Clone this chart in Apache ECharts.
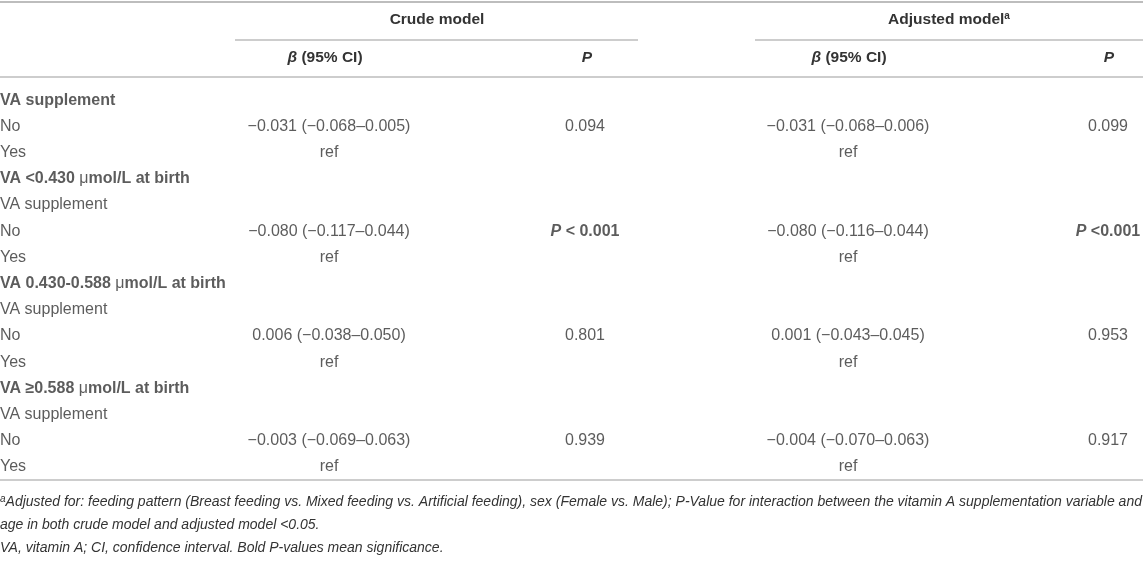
<!DOCTYPE html>
<html>
<head>
<meta charset="utf-8">
<script src="https://cdn.jsdelivr.net/npm/echarts@6/dist/echarts.min.js"></script>
<style>
html,body{margin:0;padding:0;background:#fff;}
#c{width:1143px;height:563px;}
</style>
</head>
<body>
<div id="c"></div>
<script>
// ---------- data ----------
const rowLabels = ['VA supplement', 'No', 'Yes',
  'VA <0.430 μmol/L at birth', 'VA supplement', 'No', 'Yes',
  'VA 0.430-0.588 μmol/L at birth', 'VA supplement', 'No', 'Yes',
  'VA ≥0.588 μmol/L at birth', 'VA supplement', 'No', 'Yes'];
const sectionRows = [0, 3, 7, 11];
const crudeBeta = ['', '−0.031 (−0.068–0.005)', 'ref', '', '', '−0.080 (−0.117–0.044)', 'ref', '', '', '0.006 (−0.038–0.050)', 'ref', '', '', '−0.003 (−0.069–0.063)', 'ref'];
const crudeP = ['', '0.094', '', '', '', 'P < 0.001', '', '', '', '0.801', '', '', '', '0.939', ''];
const adjBeta = ['', '−0.031 (−0.068–0.006)', 'ref', '', '', '−0.080 (−0.116–0.044)', 'ref', '', '', '0.001 (−0.043–0.045)', 'ref', '', '', '−0.004 (−0.070–0.063)', 'ref'];
const adjP = ['', '0.099', '', '', '', 'P <0.001', '', '', '', '0.953', '', '', '', '0.917', ''];
const significantRows = [5];
const groupHeaders = ['Crude model', 'Adjusted model'];
const footnotes = [
  'Adjusted for: feeding pattern (Breast feeding vs. Mixed feeding vs. Artificial feeding), sex (Female vs. Male); P-Value for interaction between the vitamin A supplementation variable and',
  'age in both crude model and adjusted model <0.05.',
  'VA, vitamin A; CI, confidence interval. Bold P-values mean significance.'
];

// ---------- layout ----------
const W = 1143;
const FONT = '"Liberation Sans", Arial, Helvetica, sans-serif';
const TXT = '#333';
const LINE = '#bdbdbd';
const FS = 16, HFS = 15.5, FNS = 14;
const col = { label: 0, cb: 329, cp: 585, ab: 848, ap: 1108 };
const gridTop = 87, rowH = 26.2;

const rich = {
  n: { fontFamily: FONT, fontSize: FS, color: TXT },
  b: { fontFamily: FONT, fontSize: FS, color: TXT, fontWeight: 'bold' },
  mu: { fontFamily: FONT, fontSize: FS, color: TXT, fontWeight: 'normal' },
  bi: { fontFamily: FONT, fontSize: FS, color: TXT, fontWeight: 'bold', fontStyle: 'italic' }
};

function labelText(i) {
  const t = rowLabels[i];
  if (sectionRows.indexOf(i) >= 0) {
    if (t.indexOf('μ') >= 0) {
      const parts = t.split('μ');
      return '{b|' + parts[0] + '}{mu|μ}{b|' + parts[1] + '}';
    }
    return '{b|' + t + '}';
  }
  return '{n|' + t + '}';
}
function pText(t, i) {
  if (!t) return '';
  if (significantRows.indexOf(i) >= 0) {
    return '{bi|P}{b|' + t.slice(1) + '}';
  }
  return '{n|' + t + '}';
}

function makeSeries(x, arr, fmt, align) {
  const data = [];
  arr.forEach((t, i) => { if (t) data.push({ value: [x, i], txt: fmt(t, i) }); });
  return {
    type: 'scatter', symbolSize: 0, silent: true, animation: false,
    data: data,
    label: {
      show: true, position: 'inside', align: align, verticalAlign: 'middle',
      formatter: p => p.data.txt, rich: rich
    }
  };
}

const series = [
  makeSeries(col.label, rowLabels, (t, i) => labelText(i), 'left'),
  makeSeries(col.cb, crudeBeta, t => '{n|' + t + '}', 'center'),
  makeSeries(col.cp, crudeP, pText, 'center'),
  makeSeries(col.ab, adjBeta, t => '{n|' + t + '}', 'center'),
  makeSeries(col.ap, adjP, pText, 'center')
];

const hdrRich = {
  b: { fontFamily: FONT, fontSize: HFS, fontWeight: 'bold', fill: TXT },
  bi: { fontFamily: FONT, fontSize: HFS, fontWeight: 'bold', fontStyle: 'italic', fill: TXT },
  sup: { fontFamily: FONT, fontSize: 10, fontWeight: 'bold', fill: TXT, verticalAlign: 'top', lineHeight: 17 }
};
const fnRich = {
  i: { fontFamily: FONT, fontSize: FNS, fontStyle: 'italic', fill: TXT },
  sup: { fontFamily: FONT, fontSize: 10, fontStyle: 'italic', fill: TXT, verticalAlign: 'top', lineHeight: 16 }
};
function hText(x, y, text, richStyle, align) {
  return { type: 'text', x: x, y: y, silent: true,
    style: { text: text, rich: richStyle, align: align || 'center', verticalAlign: 'middle' } };
}
function hLine(x1, x2, y, w) {
  return { type: 'line', silent: true, shape: { x1: x1, y1: y, x2: x2, y2: y },
    style: { stroke: LINE, lineWidth: w || 1.5 } };
}

const graphic = [
  hLine(0, W, 2, 2),
  hText(437, 20, '{b|' + groupHeaders[0] + '}', hdrRich),
  hText(949, 20, '{b|' + groupHeaders[1] + '}{sup|a}', hdrRich),
  hLine(235, 638, 40),
  hLine(755, W, 40),
  hText(325, 58, '{bi|β}{b| (95% CI)}', hdrRich),
  hText(587, 58, '{bi|P}', hdrRich),
  hText(849, 58, '{bi|β}{b| (95% CI)}', hdrRich),
  hText(1109, 58, '{bi|P}', hdrRich),
  hLine(0, W, 77),
  hText(0, 502, '{sup|a}{i|' + footnotes[0] + '}', fnRich, 'left'),
  hText(0, 525, '{i|' + footnotes[1] + '}', fnRich, 'left'),
  hText(0, 548, '{i|' + footnotes[2] + '}', fnRich, 'left')
];

const chart = echarts.init(document.getElementById('c'), null, { renderer: 'canvas' });
chart.setOption({
  animation: false,
  backgroundColor: '#fff',
  grid: { left: 0, right: 0, top: gridTop, height: rowH * rowLabels.length, containLabel: false },
  xAxis: {
    type: 'value', min: 0, max: W,
    axisLine: { show: true, onZero: false, lineStyle: { color: LINE, width: 1.5 } },
    axisTick: { show: false }, axisLabel: { show: false }, splitLine: { show: false }
  },
  yAxis: {
    type: 'category', inverse: true,
    data: rowLabels.map((_, i) => String(i)),
    show: false
  },
  graphic: graphic,
  series: series
});
</script>
</body>
</html>
